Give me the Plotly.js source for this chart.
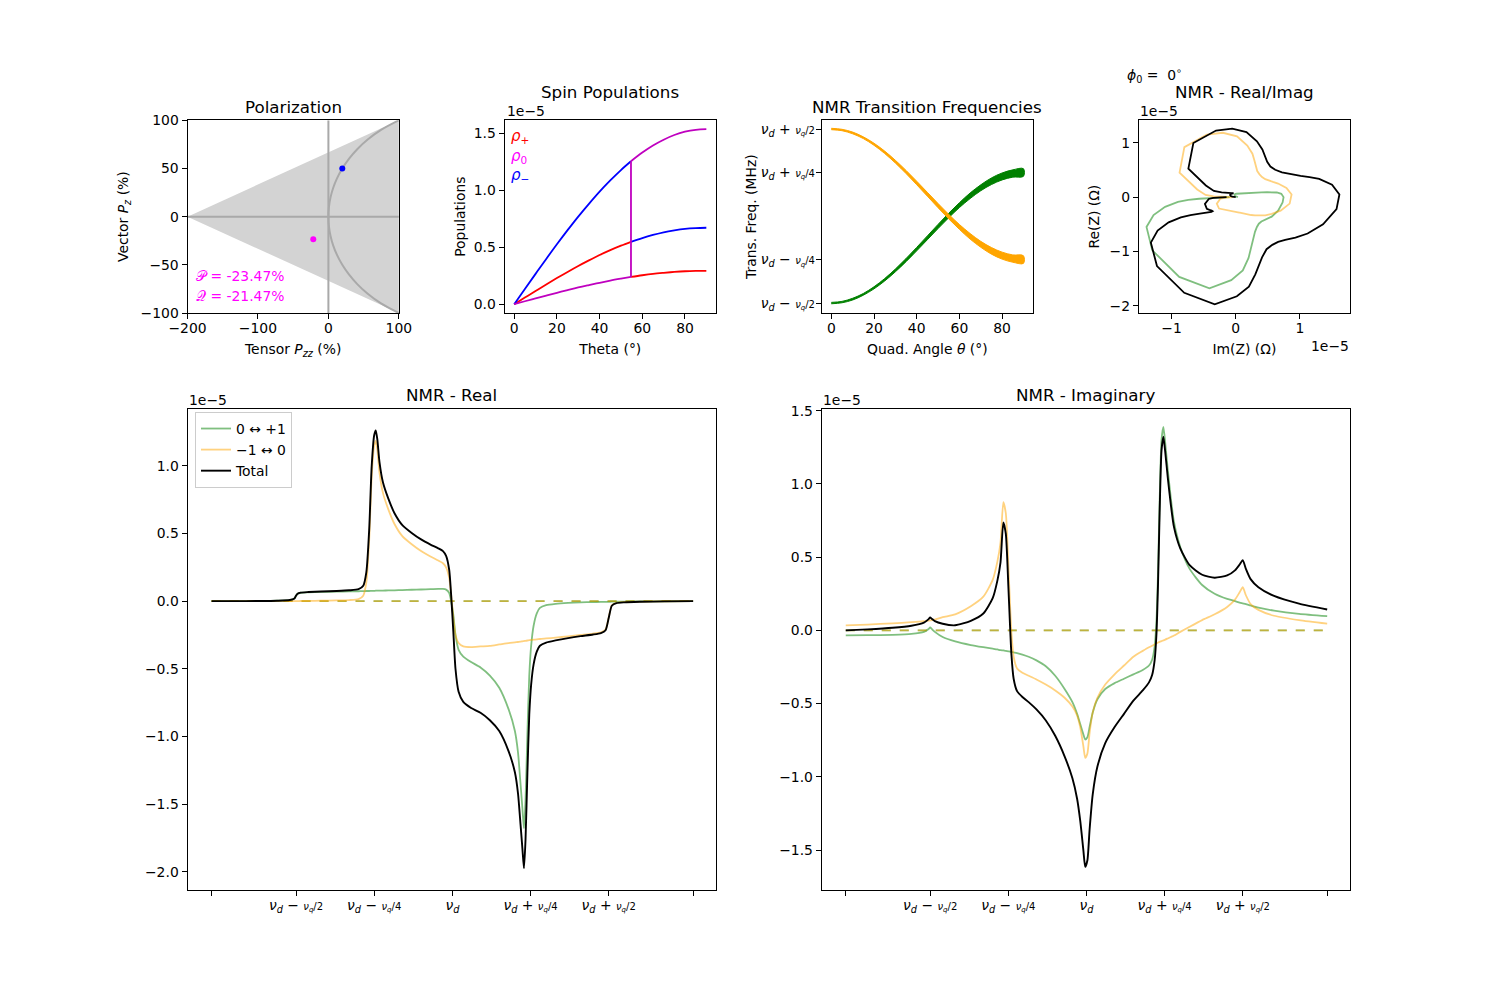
<!DOCTYPE html>
<html><head><meta charset="utf-8">
<script src="https://cdn.plot.ly/plotly-3.0.1.min.js"></script>
<style>body{margin:0;background:#fff}</style>
</head><body>
<div id="chart" style="width:1500px;height:1000px"></div>
<script>
// ================= DATA =================
// --- Polarization panel (values in %) ---
const polTriangleX = [-200, 100, 100, -200];
const polTriangleY = [0, 100, -100, 0];
const polHLineX = [-200, 100], polHLineY = [0, 0];
const polVLineX = [0, 0], polVLineY = [-100, 100];
const polCurvePz  = [-100,-90,-80,-70,-60,-50,-40,-30,-20,-10,0,10,20,30,40,50,60,70,80,90,100];
const polCurvePzz = [100,74.70,55.78,40.94,29.12,19.72,12.38,6.87,3.02,0.75,0,0.75,3.02,6.87,12.38,19.72,29.12,40.94,55.78,74.70,100];
const bluePointPzz = [19.72], bluePointPz = [50];
const magentaPointPzz = [-21.47], magentaPointPz = [-23.47];
const polTextP = '𝒫 = -23.47%';
const polTextQ = '𝒬 = -21.47%';
const polTicksX = [-200, -100, 0, 100], polTickTextX = ['−200', '−100', '0', '100'];
const polTicksY = [-100, -50, 0, 50, 100], polTickTextY = ['−100', '−50', '0', '50', '100'];

// --- Spin populations (×1e-5); the jump happens at the magic angle 54.7° (index 11 -> 12) ---
const popTheta  = [0,5,10,15,20,25,30,35,40,45,50,54.7,54.7,60,65,70,75,80,85,90];
const rhoPlus   = [0,0.058,0.116,0.173,0.229,0.283,0.335,0.384,0.431,0.474,0.513,0.547,0.239,0.254,0.266,0.275,0.283,0.289,0.292,0.293];
const rhoMinus  = [0,0.134,0.266,0.397,0.525,0.649,0.768,0.880,0.987,1.085,1.176,1.253,0.547,0.580,0.607,0.630,0.647,0.660,0.667,0.670];
const rhoZero   = [0,0.026,0.051,0.076,0.100,0.124,0.147,0.168,0.188,0.207,0.224,0.239,1.253,1.329,1.391,1.442,1.483,1.512,1.529,1.535];
const popJump = 12;
const popTicksX = [0,20,40,60,80];
const popTicksY = [0,0.5,1.0,1.5], popTickTextY = ['0.0','0.5','1.0','1.5'];

// --- NMR transition frequencies (offset from nu_d, in units of nu_q) ---
const freqTheta  = [0,5,10,15,20,25,30,35,40,45,50,55,60,65,70,75,80,85,90];
const freqOrange = [0.5,0.4943,0.4774,0.4498,0.4123,0.3661,0.3125,0.2533,0.1901,0.125,0.0599,-0.0033,-0.0625,-0.1161,-0.1623,-0.1998,-0.2274,-0.2443,-0.25];
const freqGreen  = [-0.5,-0.4943,-0.4774,-0.4498,-0.4123,-0.3661,-0.3125,-0.2533,-0.1901,-0.125,-0.0599,0.0033,0.0625,0.1161,0.1623,0.1998,0.2274,0.2443,0.25];
const freqSpread = [0.004,0.004,0.005,0.005,0.006,0.007,0.008,0.009,0.01,0.011,0.012,0.013,0.014,0.016,0.017,0.019,0.02,0.021,0.022];

const nuTickVals = [-0.5, -0.25, 0.25, 0.5];
const NU = '<i>ν</i><sub><i>d</i></sub>';
const FR = d => '<span style="font-size:10px"><i>ν</i><sub><i>q</i></sub>/' + d + '</span>';
const nuTickText = [NU+' − '+FR(2), NU+' − '+FR(4), NU+' + '+FR(4), NU+' + '+FR(2)];

// --- NMR lineshapes (×1e-5), frequency offset from nu_d in units of nu_q ---
const nmrFreq = [-0.77,-0.7,-0.62,-0.56,-0.52,-0.505,-0.5,-0.495,-0.485,-0.46,-0.42,-0.37,-0.33,-0.3,-0.285,-0.275,-0.266,-0.258,-0.25,-0.245,-0.24,-0.233,-0.222,-0.205,-0.185,-0.16,-0.13,-0.1,-0.07,-0.045,-0.03,-0.02,-0.01,-0.004,0.003,0.01,0.02,0.035,0.06,0.09,0.12,0.15,0.18,0.2,0.21,0.218,0.224,0.229,0.234,0.24,0.246,0.252,0.26,0.27,0.28,0.3,0.33,0.37,0.41,0.45,0.475,0.49,0.5,0.51,0.525,0.55,0.6,0.68,0.77];
const greenReal = [0,0,0.001,0.003,0.008,0.02,0.04,0.055,0.062,0.065, 0.068,0.07,0.072,0.073,0.074,0.075,0.075,0.076,0.076,0.077, 0.077,0.077,0.078,0.079,0.08,0.082,0.084,0.086,0.088,0.09, 0.09,0.085,0.06,0.0,-0.1,-0.25,-0.36,-0.41,-0.45,-0.49, -0.55,-0.64,-0.8,-0.96,-1.12,-1.35,-1.53,-1.68,-1.47,-0.98, -0.55,-0.33,-0.18,-0.09,-0.05,-0.03,-0.02,-0.013,-0.009,-0.007, -0.006,-0.005,-0.005,-0.004,-0.003,-0.003,-0.002,-0.001,0];
const orangeReal = [0,0,0,0,0,0,0,0,0.001,0.002, 0.003,0.005,0.008,0.015,0.04,0.14,0.45,0.92,1.15,1.185, 1.12,0.95,0.8,0.68,0.57,0.48,0.42,0.37,0.33,0.3, 0.28,0.25,0.17,0.05,-0.12,-0.25,-0.31,-0.335,-0.34,-0.335, -0.33,-0.32,-0.31,-0.305,-0.302,-0.3,-0.297,-0.295,-0.293,-0.291, -0.289,-0.287,-0.285,-0.283,-0.28,-0.276,-0.27,-0.26,-0.25,-0.24, -0.23,-0.21,-0.12,-0.03,-0.012,-0.006,-0.003,-0.001,0];
const totalReal = [0,0,0.001,0.003,0.008,0.02,0.04,0.055,0.063,0.067, 0.071,0.075,0.08,0.088,0.114,0.215,0.525,0.996,1.226,1.262, 1.197,1.027,0.878,0.759,0.65,0.562,0.504,0.456,0.418,0.39, 0.37,0.335,0.23,0.05,-0.22,-0.5,-0.67,-0.745,-0.79,-0.825, -0.88,-0.96,-1.11,-1.265,-1.422,-1.65,-1.827,-1.975,-1.763,-1.271, -0.839,-0.617,-0.465,-0.373,-0.33,-0.306,-0.29,-0.273,-0.259,-0.247, -0.236,-0.215,-0.125,-0.034,-0.015,-0.009,-0.005,-0.002,0];
const greenImag = [-0.034,-0.033,-0.03,-0.024,-0.01,0.01,0.02,0.01,-0.01,-0.045, -0.075,-0.1,-0.115,-0.125,-0.13,-0.135,-0.137,-0.14,-0.143,-0.145, -0.147,-0.15,-0.155,-0.165,-0.18,-0.205,-0.245,-0.31,-0.4,-0.49, -0.57,-0.64,-0.71,-0.745,-0.73,-0.66,-0.56,-0.47,-0.4,-0.36, -0.33,-0.3,-0.27,-0.24,-0.2,-0.11,0.07,0.41,0.88,1.3, 1.39,1.28,1.1,0.9,0.74,0.57,0.42,0.31,0.25,0.215, 0.2,0.19,0.185,0.18,0.17,0.155,0.135,0.113,0.097];
const orangeImag = [0.034,0.04,0.048,0.056,0.063,0.067,0.068,0.07,0.073,0.09, 0.11,0.165,0.23,0.345,0.47,0.6,0.875,0.8,0.45,0.2, -0.02,-0.18,-0.26,-0.29,-0.31,-0.335,-0.37,-0.41,-0.46,-0.52, -0.58,-0.66,-0.79,-0.87,-0.84,-0.7,-0.56,-0.46,-0.37,-0.3, -0.24,-0.18,-0.14,-0.115,-0.105,-0.095,-0.088,-0.083,-0.078,-0.073, -0.068,-0.063,-0.055,-0.045,-0.035,-0.01,0.025,0.07,0.11,0.16, 0.21,0.26,0.295,0.24,0.18,0.14,0.1,0.07,0.046];
const totalImag = [0,0.007,0.018,0.032,0.053,0.077,0.088,0.08,0.063,0.045, 0.035,0.065,0.115,0.22,0.34,0.465,0.738,0.66,0.307,0.055, -0.167,-0.33,-0.415,-0.455,-0.49,-0.54,-0.615,-0.72,-0.86,-1.01, -1.15,-1.3,-1.5,-1.615,-1.57,-1.36,-1.12,-0.93,-0.77,-0.66, -0.57,-0.48,-0.41,-0.355,-0.305,-0.205,-0.018,0.327,0.802,1.227, 1.322,1.217,1.045,0.855,0.705,0.56,0.445,0.38,0.36,0.375, 0.41,0.45,0.48,0.42,0.35,0.295,0.235,0.183,0.143];
const zeroLine = [0, 0];

const nmrTickVals = [nmrFreq[0], -0.5, -0.25, 0, 0.25, 0.5, nmrFreq[nmrFreq.length-1]];
const nmrTickText = ['', nuTickText[0], nuTickText[1], NU, nuTickText[2], nuTickText[3], ''];
const realTicksY = [-2,-1.5,-1,-0.5,0,0.5,1], realTickTextY = ['−2.0','−1.5','−1.0','−0.5','0.0','0.5','1.0'];
const imagTicksY = [-1.5,-1,-0.5,0,0.5,1,1.5], imagTickTextY = ['−1.5','−1.0','−0.5','0.0','0.5','1.0','1.5'];
const riTicksX = [-1,0,1], riTickTextX = ['−1','0','1'];
const riTicksY = [-2,-1,0,1], riTickTextY = ['−2','−1','0','1'];

// ================= STYLE =================
const FONT = 'DejaVu Sans, Verdana, sans-serif';
const FS = 13.9, TFS = 16.7;
const GREEN = 'rgba(0,128,0,0.5)', ORANGE = 'rgba(255,165,0,0.5)';

function ax(extra) {
  return Object.assign({
    showline: true, mirror: true, linecolor: '#000', linewidth: 1,
    ticks: 'outside', ticklen: 5, tickwidth: 1, tickcolor: '#000',
    showgrid: false, zeroline: false, automargin: false, fixedrange: true,
    tickfont: {family: FONT, size: FS, color: '#000'}
  }, extra);
}
const xax = extra => ax(Object.assign({ticklabelstandoff: -3}, extra));
function ttl(t, standoff) { return {text: t, font: {family: FONT, size: FS, color: '#000'}, standoff: standoff}; }

const colTop = [[0.125,0.2659],[0.3364,0.4773],[0.5478,0.6887],[0.7592,0.9]];
const rowTop = [0.687, 0.8797];
const colBot = [[0.125,0.4773],[0.5478,0.9]];
const rowBot = [0.11, 0.591];

// ================= TRACES =================
const traces = [];
// Polarization
traces.push({x: polTriangleX, y: polTriangleY, xaxis:'x', yaxis:'y', mode:'lines', fill:'toself', fillcolor:'#d3d3d3', line:{width:0, color:'#d3d3d3'}, showlegend:false, hoverinfo:'skip'});
traces.push({x: polHLineX, y: polHLineY, xaxis:'x', yaxis:'y', mode:'lines', line:{color:'#a9a9a9', width:2}, showlegend:false});
traces.push({x: polVLineX, y: polVLineY, xaxis:'x', yaxis:'y', mode:'lines', line:{color:'#a9a9a9', width:2}, showlegend:false});
traces.push({x: polCurvePzz, y: polCurvePz, xaxis:'x', yaxis:'y', mode:'lines', line:{color:'#a9a9a9', width:2, shape:'spline'}, showlegend:false});
traces.push({x: bluePointPzz, y: bluePointPz, xaxis:'x', yaxis:'y', mode:'markers', marker:{color:'#0000ff', size:6}, showlegend:false});
traces.push({x: magentaPointPzz, y: magentaPointPz, xaxis:'x', yaxis:'y', mode:'markers', marker:{color:'#ff00ff', size:6}, showlegend:false});

// Spin populations: two smooth segments per species, plus the magenta jump at the magic angle
function popSeg(arr, color) {
  traces.push({x: popTheta.slice(0, popJump), y: arr.slice(0, popJump), xaxis:'x2', yaxis:'y2', mode:'lines', line:{color:color, width:1.8, shape:'spline'}, showlegend:false});
  traces.push({x: popTheta.slice(popJump), y: arr.slice(popJump), xaxis:'x2', yaxis:'y2', mode:'lines', line:{color:color, width:1.8, shape:'spline'}, showlegend:false});
}
popSeg(rhoPlus, '#ff0000');
popSeg(rhoMinus, '#0000ff');
popSeg(rhoZero, '#bf00bf');
traces.push({x: popTheta.slice(popJump-1, popJump+1), y: rhoZero.slice(popJump-1, popJump+1), xaxis:'x2', yaxis:'y2', mode:'lines', line:{color:'#bf00bf', width:1.8}, showlegend:false});

// Transition frequencies (band of points)
function band(center) {
  const up = center.map((v, i) => v + freqSpread[i]);
  const lo = center.map((v, i) => v - freqSpread[i]);
  return {x: freqTheta.concat(freqTheta.slice().reverse()), y: up.concat(lo.slice().reverse())};
}
const gb = band(freqGreen), ob = band(freqOrange);
traces.push({x: gb.x, y: gb.y, xaxis:'x3', yaxis:'y3', mode:'lines', fill:'toself', fillcolor:'#008000', line:{color:'#008000', width:1, shape:'spline'}, showlegend:false});
traces.push({x: ob.x, y: ob.y, xaxis:'x3', yaxis:'y3', mode:'lines', fill:'toself', fillcolor:'#ffa500', line:{color:'#ffa500', width:1, shape:'spline'}, showlegend:false});

// Real / Imag parametric (x = -Im)
const neg = a => a.map(v => -v);
traces.push({x: neg(greenImag), y: greenReal, xaxis:'x4', yaxis:'y4', mode:'lines', line:{color:GREEN, width:1.8}, showlegend:false});
traces.push({x: neg(orangeImag), y: orangeReal, xaxis:'x4', yaxis:'y4', mode:'lines', line:{color:ORANGE, width:1.8}, showlegend:false});
traces.push({x: neg(totalImag), y: totalReal, xaxis:'x4', yaxis:'y4', mode:'lines', line:{color:'#000', width:1.8}, showlegend:false});

// NMR real & imaginary
const ends = [nmrFreq[0], nmrFreq[nmrFreq.length-1]];
function nmrPanel(xa, ya, g, o, t, legend) {
  traces.push({x: nmrFreq, y: g, xaxis:xa, yaxis:ya, mode:'lines', name:'0 ↔ +1', line:{color:GREEN, width:1.8, shape:'spline', smoothing:0.6}, showlegend:legend});
  traces.push({x: ends, y: zeroLine, xaxis:xa, yaxis:ya, mode:'lines', line:{color:GREEN, width:1.8, dash:'dash'}, showlegend:false});
  traces.push({x: nmrFreq, y: o, xaxis:xa, yaxis:ya, mode:'lines', name:'−1 ↔ 0', line:{color:ORANGE, width:1.8, shape:'spline', smoothing:0.6}, showlegend:legend});
  traces.push({x: ends, y: zeroLine, xaxis:xa, yaxis:ya, mode:'lines', line:{color:ORANGE, width:1.8, dash:'dash'}, showlegend:false});
  traces.push({x: nmrFreq, y: t, xaxis:xa, yaxis:ya, mode:'lines', name:'Total', line:{color:'#000', width:1.9, shape:'spline', smoothing:0.6}, showlegend:legend});
}
nmrPanel('x5','y5', greenReal, orangeReal, totalReal, true);
nmrPanel('x6','y6', greenImag, orangeImag, totalImag, false);

// ================= LAYOUT =================
function ann(text, x, y, xa, ya, opts) {
  return Object.assign({text: text, x: x, y: y, xref: 'paper', yref: 'paper', xanchor: xa, yanchor: ya, showarrow: false,
    font: {family: FONT, size: FS, color: '#000'}}, opts || {});
}
const mid = c => (c[0] + c[1]) / 2;
const py = p => 1 - p / 1000, px = p => p / 1500;
const TF = {font: {family: FONT, size: TFS, color: '#000'}};

const layout = {
  width: 1500, height: 1000,
  margin: {l: 0, r: 0, t: 0, b: 0},
  paper_bgcolor: '#fff', plot_bgcolor: '#fff',
  font: {family: FONT, size: FS, color: '#000'},
  showlegend: true,
  legend: {x: px(195), y: py(412), xanchor: 'left', yanchor: 'top', bgcolor: 'rgba(255,255,255,0.8)',
    bordercolor: '#cccccc', borderwidth: 1, font: {family: FONT, size: FS, color: '#000'}, tracegroupgap: 0},
  xaxis: xax({domain: colTop[0], anchor: 'y', range: [-200, 100], tickvals: polTicksX, ticktext: polTickTextX,
    title: ttl('Tensor <i>P</i><sub><i>zz</i></sub> (%)', 9)}),
  yaxis: ax({domain: rowTop, anchor: 'x', range: [-100, 100], tickvals: polTicksY, ticktext: polTickTextY,
    title: ttl('Vector <i>P</i><sub><i>z</i></sub> (%)', 8)}),
  xaxis2: xax({domain: colTop[1], anchor: 'y2', range: [-4.5, 94.5], tickvals: popTicksX,
    title: ttl('Theta (°)', 9)}),
  yaxis2: ax({domain: rowTop, anchor: 'x2', range: [-0.077, 1.612], tickvals: popTicksY, ticktext: popTickTextY,
    title: ttl('Populations', 4)}),
  xaxis3: xax({domain: colTop[2], anchor: 'y3', range: [-4.5, 94.5], tickvals: popTicksX,
    title: ttl('Quad. Angle <i>θ</i> (°)', 9)}),
  yaxis3: ax({domain: rowTop, anchor: 'x3', range: [-0.557, 0.55], tickvals: nuTickVals, ticktext: nuTickText,
    ticklabelstandoff: -2, title: ttl('Trans. Freq. (MHz)', 0)}),
  xaxis4: xax({domain: colTop[3], anchor: 'y4', range: [-1.51, 1.78], tickvals: riTicksX, ticktext: riTickTextX,
    title: ttl('Im(Z) (Ω)', 9)}),
  yaxis4: ax({domain: rowTop, anchor: 'x4', range: [-2.135, 1.415], tickvals: riTicksY, ticktext: riTickTextY,
    title: ttl('Re(Z) (Ω)', 6)}),
  xaxis5: xax({domain: colBot[0], anchor: 'y5', range: [-0.847, 0.843], tickvals: nmrTickVals, ticktext: nmrTickText}),
  yaxis5: ax({domain: rowBot, anchor: 'x5', range: [-2.135, 1.42], tickvals: realTicksY, ticktext: realTickTextY}),
  xaxis6: xax({domain: colBot[1], anchor: 'y6', range: [-0.847, 0.843], tickvals: nmrTickVals, ticktext: nmrTickText}),
  yaxis6: ax({domain: rowBot, anchor: 'x6', range: [-1.773, 1.512], tickvals: imagTicksY, ticktext: imagTickTextY}),
  annotations: [
    ann('Polarization', mid(colTop[0]), py(107), 'center', 'middle', TF),
    ann('Spin Populations', mid(colTop[1]), py(92), 'center', 'middle', TF),
    ann('NMR Transition Frequencies', mid(colTop[2]), py(107), 'center', 'middle', TF),
    ann('NMR - Real/Imag', mid(colTop[3]), py(92), 'center', 'middle', TF),
    ann('NMR - Real', mid(colBot[0]), py(395), 'center', 'middle', TF),
    ann('NMR - Imaginary', mid(colBot[1]), py(395), 'center', 'middle', TF),
    ann('<i>ϕ</i><sub>0</sub> =  0<sup>∘</sup>', px(1125), py(75), 'left', 'middle'),
    ann('1e−5', px(505), py(111), 'left', 'middle'),
    ann('1e−5', px(1138), py(111), 'left', 'middle'),
    ann('1e−5', px(1351), py(346), 'right', 'middle'),
    ann('1e−5', px(187), py(400), 'left', 'middle'),
    ann('1e−5', px(821), py(400), 'left', 'middle'),
    ann('<i>ρ</i><sub>+</sub>', px(509), py(136), 'left', 'middle', {font: {family: FONT, size: 15, color: '#ff0000'}}),
    ann('<i>ρ</i><sub>0</sub>', px(509), py(156), 'left', 'middle', {font: {family: FONT, size: 15, color: '#ff00ff'}}),
    ann('<i>ρ</i><sub>−</sub>', px(509), py(176), 'left', 'middle', {font: {family: FONT, size: 15, color: '#0000ff'}}),
    {text: polTextP, x: -191, y: -62, xref: 'x', yref: 'y', xanchor: 'left', yanchor: 'middle', showarrow: false, font: {family: FONT, size: FS, color: '#ff00ff'}},
    {text: polTextQ, x: -191, y: -82, xref: 'x', yref: 'y', xanchor: 'left', yanchor: 'middle', showarrow: false, font: {family: FONT, size: FS, color: '#ff00ff'}}
  ]
};

Plotly.newPlot('chart', traces, layout, {staticPlot: true, displayModeBar: false});
</script>
</body></html>
